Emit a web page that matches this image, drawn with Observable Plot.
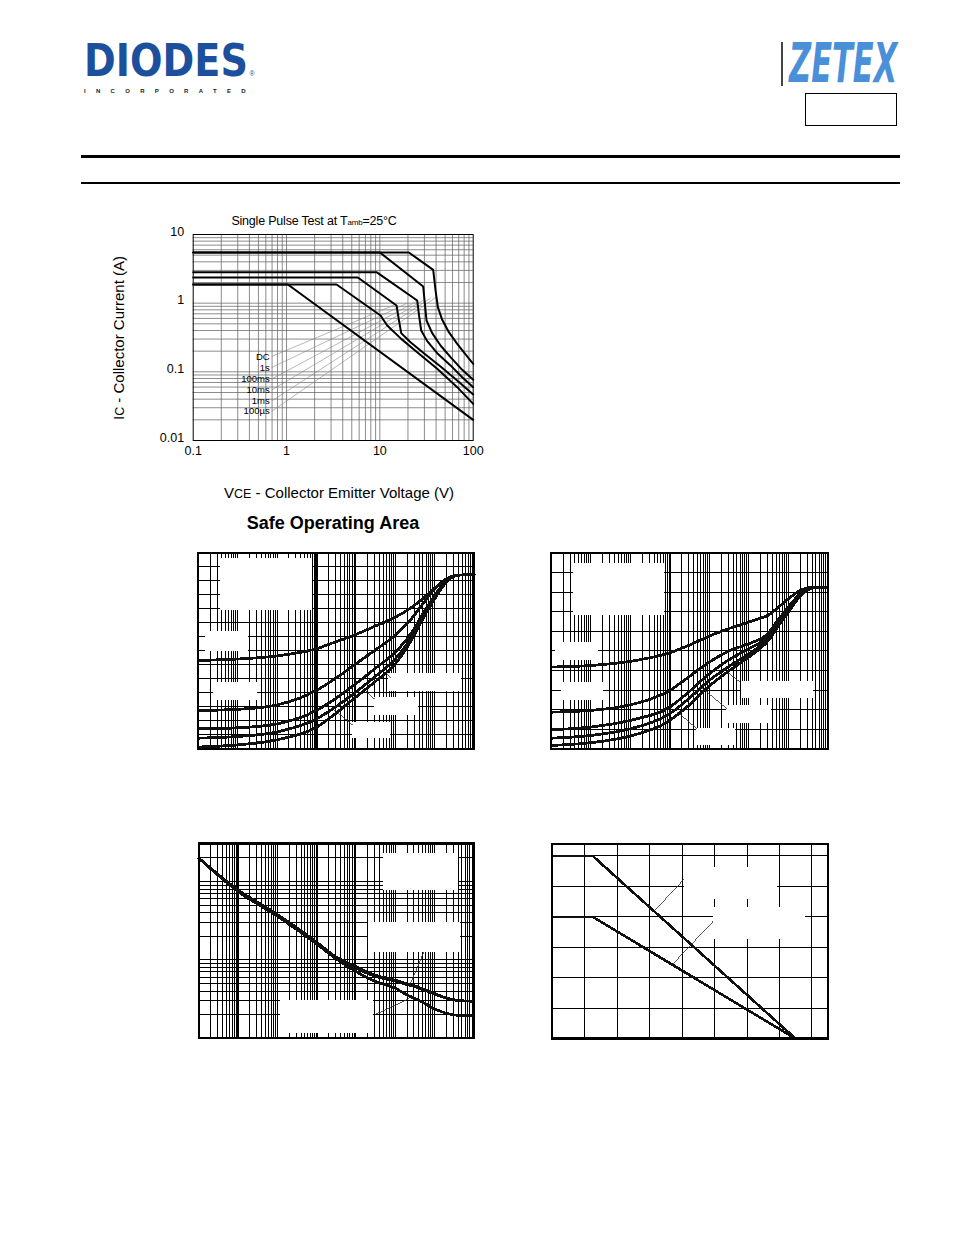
<!DOCTYPE html>
<html>
<head>
<meta charset="utf-8">
<script src="https://cdn.jsdelivr.net/npm/d3@7"></script>
<script src="https://cdn.jsdelivr.net/npm/@observablehq/plot@0.6"></script>
<style>
html,body{margin:0;padding:0;background:#fff;}
#page{position:relative;width:954px;height:1235px;overflow:hidden;font-family:"Liberation Sans",Arial,sans-serif;color:#000;}
.abs{position:absolute;white-space:nowrap;}
.chart{position:absolute;}
.chart svg{display:block;}
</style>
</head>
<body>
<div id="page">
  <!-- header -->
  <div class="abs" style="left:84px;top:42.4px;font:bold 45px/38px 'DejaVu Sans',sans-serif;color:#1c4f9c;transform-origin:0 0;transform:scaleX(0.85);">DIODES</div>
  <div class="abs" style="left:249.5px;top:70px;font:7px/7px 'Liberation Sans',Arial,sans-serif;color:#1c4f9c;">®</div>
  <div class="abs" style="left:84px;top:88.3px;font:bold 6px/6px 'Liberation Sans',Arial,sans-serif;letter-spacing:10.3px;color:#222;">INCORPORATED</div>
  <div class="abs" style="left:781px;top:42px;width:2px;height:44px;background:#444;"></div>
  <div class="abs" style="left:789px;top:35.6px;font:oblique bold 55px/55px 'DejaVu Sans',sans-serif;color:#4a90d9;transform-origin:0 0;transform:scaleX(0.555);">ZETEX</div>
  <div class="abs" style="left:805px;top:93px;width:92px;height:33px;border:1px solid #000;box-sizing:border-box;"></div>
  <div class="abs" style="left:81px;top:155px;width:819px;height:3px;background:#000;"></div>
  <div class="abs" style="left:81px;top:182px;width:819px;height:2px;background:#000;"></div>

  <!-- SOA texts -->
  <div class="abs" style="left:314px;top:214px;transform:translateX(-50%);font:12.5px/14px 'Liberation Sans',Arial,sans-serif;letter-spacing:-0.2px;">Single Pulse Test at T<span style="font-size:8px">amb</span>=25°C</div>
  <div class="abs" style="left:119px;top:338px;transform:translate(-50%,-50%) rotate(-90deg);font:15px/16px 'Liberation Sans',Arial,sans-serif;">I<span style="font-size:12.5px">C</span> - Collector Current (A)</div>
  <div class="abs" style="left:339px;top:485px;transform:translateX(-50%);font:15px/16px 'Liberation Sans',Arial,sans-serif;">V<span style="font-size:12.5px">CE</span> - Collector Emitter Voltage (V)</div>
  <div class="abs" style="left:333px;top:514px;transform:translateX(-50%);font:bold 18px/19px 'Liberation Sans',Arial,sans-serif;">Safe Operating Area</div>

  <div class="chart" id="soa" style="left:100px;top:210px;"></div>
  <div class="chart" id="chA" style="left:190px;top:545px;"></div>
  <div class="chart" id="chB" style="left:543px;top:545px;"></div>
  <div class="chart" id="chC" style="left:190px;top:835px;"></div>
  <div class="chart" id="chD" style="left:545px;top:835px;"></div>
</div>
<script>
// ---------------- Safe Operating Area data (VCE in V, IC in A) ----------------
const soaXTicks = [0.1, 1, 10, 100];
const soaYTicks = [0.01, 0.1, 1, 10];
const soaVce100us = [0.1, 20.45, 37.28, 39.48, 41.82, 46.55, 54.86, 67.4, 82.78, 100];
const soaIc100us  = [5.47, 5.47, 3.06, 1.53, 0.874, 0.572, 0.378, 0.256, 0.179, 0.131];
const soaVce1ms   = [0.1, 10, 29.13, 30.35, 31.62, 36.37, 44.67, 57.17, 76.24, 100];
const soaIc1ms    = [5.47, 5.47, 1.748, 0.978, 0.559, 0.366, 0.242, 0.164, 0.107, 0.0765];
const soaVce10ms  = [0.1, 9.21, 25.12, 26.39, 27.73, 32.15, 41.14, 57.17, 76.24, 100];
const soaIc10ms   = [2.83, 2.83, 1.094, 0.639, 0.400, 0.280, 0.187, 0.124, 0.0836, 0.0598];
const soaVce100ms = [0.1, 5.81, 15.09, 15.98, 16.93, 21.31, 29.61, 44.67, 67.4, 100];
const soaIc100ms  = [2.365, 2.365, 0.925, 0.572, 0.366, 0.270, 0.187, 0.1196, 0.0747, 0.0468];
const soaVce1s    = [0.1, 3.434, 10.17, 11.98, 16.93, 25.12, 41.14, 67.4, 100];
const soaIc1s     = [1.87, 1.87, 0.661, 0.473, 0.302, 0.1934, 0.1106, 0.0598, 0.0342];
const soaVceDC    = [0.1, 1.033, 100];
const soaIcDC     = [1.87, 1.87, 0.02];
// curve labels and their leader lines
const soaLabels    = ["DC", "1s", "100ms", "10ms", "1ms", "100µs"];
const soaLabelVce  = 0.66;
const soaLabelIc   = [0.1673, 0.1156, 0.0787, 0.0544, 0.0376, 0.0265];
const soaLeaderVce = [14.7, 19.6, 24.7, 29.6, 34.9, 41.1];
const soaLeaderIc  = [0.957, 1.0, 1.057, 1.119, 1.18, 1.25];

// ---------------- Small characteristic charts (shared IC points, A) ----------------
const icPoints = [1e-6, 1e-5, 1e-4, 1e-3, 3e-3, 1e-2, 3e-2, 0.1, 0.2, 0.3, 0.5, 1, 2, 3, 5, 10];
// Chart A (linear y, 0..700)
const chartA1 = [315, 320, 331, 357, 381, 408, 437, 470, 494, 512, 536, 574, 608, 617, 621, 622];
const chartA2 = [136, 140, 156, 208, 250, 303, 351, 405, 447, 476, 518, 572, 608, 617, 621, 622];
const chartA3 = [70, 74, 88, 136, 178, 232, 285, 345, 393, 429, 482, 548, 602, 617, 621, 622];
const chartA4 = [37, 43, 59, 106, 148, 202, 256, 321, 375, 411, 470, 542, 598, 616, 621, 622];
const chartA5 = [5, 13, 31, 76, 124, 184, 238, 303, 363, 405, 464, 536, 596, 615, 621, 622];
// Chart B (linear y, 0..1)
const chartB1 = [.417, .425, .446, .490, .527, .575, .612, .646, .667, .680, .714, .765, .808, .820, .825, .825];
const chartB2 = [.187, .196, .224, .298, .366, .442, .497, .536, .561, .587, .646, .723, .791, .813, .823, .825];
const chartB3 = [.097, .111, .145, .213, .289, .383, .451, .510, .544, .575, .629, .714, .786, .813, .823, .825];
const chartB4 = [.054, .068, .102, .179, .255, .349, .417, .485, .527, .561, .621, .706, .782, .811, .823, .825];
const chartB5 = [.017, .031, .065, .145, .221, .320, .395, .468, .514, .548, .612, .697, .779, .810, .823, .825];
// Chart C (log y, 1..312)
const chartC1 = [198.6, 74.5, 36.1, 16.0, 10.5, 7.10, 5.34, 4.35, 3.57, 3.24, 2.88, 2.37, 2.08, 1.99, 1.95, 1.95];
const chartC2 = [198.6, 74.5, 36.1, 16.0, 10.5, 7.83, 6.19, 5.34, 4.84, 4.61, 4.18, 3.68, 3.24, 3.09, 2.99, 2.97];
const chartC3 = [198.6, 78, 38, 16.8, 11.0, 8.2, 6.4, 5.5, 4.95, 4.7, 4.25, 3.72, 3.26, 3.1, 3.0, 2.97];
// Chart D (derating: temperature °C vs power W)
const tempD = [0, 25, 150];
const chartD1 = [1.2, 1.2, 0];
const chartD2 = [0.8, 0.8, 0];
// erased-label masks [x1, x2, y1, y2] and leader lines [x1, y1, x2, y2]
const boxesA = [[3.68e-6, 7.8e-4, 494, 679], [1.53e-6, 1.92e-5, 347, 417], [2.49e-6, 3.14e-5, 172, 237], [0.0689, 4.73, 205, 268], [0.0303, 0.397, 118, 184], [0.0081, 0.076, 35, 94]];
const leadersA = [[0.0424, 283, 0.076, 255], [0.0145, 216, 0.0303, 176], [0.00252, 144, 0.0086, 82]];
const boxesB = [[3.67e-6, 7.4e-4, .680, .944], [1.26e-6, 1.57e-5, .451, .544], [1.87e-6, 2.11e-5, .246, .340], [.0673, 4.37, .258, .343], [.0281, .372, .128, .221], [.00489, .0474, .017, .102]];
const leadersB = [[.0254, .399, .061, .340], [.00653, .311, .0281, .204], [.00152, .190, .00489, .102]];
const boxesC = [[.0492, 4.13, 76.9, 226], [.0212, 4.56, 12.5, 29.7], [1.2e-4, .0284, 1.14, 3.03]];
const leadersC = [[.0313, 2.01, .221, 3.18], [.244, 4.95, .531, 12.5]];
const boxesD = [[81.6, 138.5, .917, 1.124], [99.5, 155.9, .655, .862]];
const leadersD = [[63.6, .847, 81.6, 1.052], [74.3, .491, 99.5, .775]];

// ---------------- helpers ----------------
function logGrid(lo, hi) {
  const out = [];
  for (let e = Math.floor(Math.log10(lo)); e <= Math.ceil(Math.log10(hi)); e++) {
    for (let k = 1; k < 10; k++) {
      const v = +(k * Math.pow(10, e)).toPrecision(3);
      if (v > lo * 1.0001 && v < hi * 0.9999) out.push(v);
    }
  }
  return out;
}
function linGrid(lo, hi, step) {
  const out = [];
  for (let v = lo + step; v < hi - step * 0.01; v += step) out.push(+v.toFixed(6));
  return out;
}
const font = "Liberation Sans, Arial, sans-serif";

// ---------------- SOA chart ----------------
const soaCurves = [
  ["100µs", soaVce100us, soaIc100us], ["1ms", soaVce1ms, soaIc1ms], ["10ms", soaVce10ms, soaIc10ms],
  ["100ms", soaVce100ms, soaIc100ms], ["1s", soaVce1s, soaIc1s], ["DC", soaVceDC, soaIcDC]
];
const soaRows = soaCurves.flatMap(([name, xs, ys]) => xs.map((v, i) => ({series: name, vce: v, ic: ys[i]})));
const soaLabelRows = soaLabels.map((t, i) => ({t, x: soaLabelVce, y: soaLabelIc[i], x2: soaLeaderVce[i], y2: soaLeaderIc[i]}));

const soa = Plot.plot({
  width: 390, height: 255,
  marginLeft: 92.7, marginRight: 17.3, marginTop: 24, marginBottom: 25,
  x: {type: "log", domain: [0.1, 100], label: null},
  y: {type: "log", domain: [0.01, 10], label: null},
  style: {fontFamily: font, fontSize: "12px", background: "transparent", color: "#000"},
  marks: [
    Plot.ruleX(logGrid(0.1, 100), {stroke: "#666", strokeWidth: 0.75}),
    Plot.ruleY(logGrid(0.01, 10), {stroke: "#666", strokeWidth: 0.75}),
    Plot.link(soaLabelRows, {x1: d => d.x * 1.05, y1: "y", x2: "x2", y2: "y2", stroke: "#888", strokeWidth: 0.6}),
    Plot.line(soaRows, {x: "vce", y: "ic", z: "series", stroke: "#000", strokeWidth: 2, strokeLinejoin: "miter"}),
    Plot.text(soaLabelRows, {x: "x", y: "y", text: "t", textAnchor: "end", fontSize: 9.5, fill: "#000"}),
    Plot.frame({stroke: "#000", strokeWidth: 1}),
    Plot.axisX({ticks: soaXTicks, tickSize: 0, tickPadding: 6, tickFormat: d => String(d), label: null, fontSize: 12.5}),
    Plot.axisY({ticks: soaYTicks, tickSize: 0, tickPadding: 9, tickFormat: d => String(d), label: null, dy: -3, fontSize: 12.5})
  ]
});
document.getElementById("soa").appendChild(soa);

// ---------------- small charts ----------------
function smallChart(opts) {
  const {xScale, yScale, xGrid, yGrid, xThick, series, xs, boxes, leaders, m} = opts;
  const rows = series.flatMap((ys, s) => xs.map((x, i) => ({s, x, y: ys[i]})));
  return Plot.plot({
    width: 290, height: 210,
    marginLeft: m[0], marginRight: m[1], marginTop: m[2], marginBottom: m[3],
    x: {...xScale, axis: null},
    y: {...yScale, axis: null},
    style: {background: "transparent", shapeRendering: "crispEdges"},
    marks: [
      Plot.ruleX(xGrid, {stroke: "#000", strokeWidth: 1}),
      Plot.ruleY(yGrid, {stroke: "#000", strokeWidth: 1}),
      Plot.ruleX(xThick, {stroke: "#000", strokeWidth: 2.2}),
      Plot.rect(boxes, {x1: d => d[0], x2: d => d[1], y1: d => d[2], y2: d => d[3], fill: "#fff"}),
      Plot.link(leaders, {x1: d => d[0], y1: d => d[1], x2: d => d[2], y2: d => d[3], stroke: "#333", strokeWidth: 0.8, shapeRendering: "auto"}),
      Plot.line(rows, {x: "x", y: "y", z: "s", stroke: "#111", strokeWidth: 2.8, curve: "monotone-x", shapeRendering: "auto"}),
      Plot.frame({stroke: "#000", strokeWidth: 2})
    ]
  });
}

const icDomain = [1e-6, 10];
document.getElementById("chA").appendChild(smallChart({
  xScale: {type: "log", domain: icDomain}, yScale: {domain: [0, 700]},
  xGrid: logGrid(1e-6, 10), yGrid: linGrid(0, 700, 50), xThick: [1e-3],
  series: [chartA1, chartA2, chartA3, chartA4, chartA5], xs: icPoints,
  boxes: boxesA, leaders: leadersA, m: [7.7, 6.3, 7.3, 7]
}));
document.getElementById("chB").appendChild(smallChart({
  xScale: {type: "log", domain: icDomain}, yScale: {domain: [0, 1]},
  xGrid: logGrid(1e-6, 10), yGrid: linGrid(0, 1, 0.1), xThick: [1e-3],
  series: [chartB1, chartB2, chartB3, chartB4, chartB5], xs: icPoints,
  boxes: boxesB, leaders: leadersB, m: [7.7, 5.7, 7.3, 6.7]
}));
document.getElementById("chC").appendChild(smallChart({
  xScale: {type: "log", domain: icDomain}, yScale: {type: "log", domain: [1, 312]},
  xGrid: logGrid(1e-6, 10), yGrid: logGrid(1, 312), xThick: [1e-5, 1e-3],
  series: [chartC1, chartC2, chartC3], xs: icPoints,
  boxes: boxesC, leaders: leadersC, m: [8.3, 6.7, 7.3, 7.3]
}));
document.getElementById("chD").appendChild(Plot.plot({
  width: 290, height: 210, marginLeft: 6.7, marginRight: 7.3, marginTop: 8.3, marginBottom: 6.7,
  x: {domain: [0, 170], axis: null}, y: {domain: [0, 1.28], axis: null},
  style: {background: "transparent", shapeRendering: "crispEdges"},
  marks: [
    Plot.ruleX(linGrid(0, 170, 20), {stroke: "#000", strokeWidth: 1}),
    Plot.ruleY(linGrid(0, 1.28, 0.2), {stroke: "#000", strokeWidth: 1}),
    Plot.rect(boxesD, {x1: d => d[0], x2: d => d[1], y1: d => d[2], y2: d => d[3], fill: "#fff"}),
    Plot.link(leadersD, {x1: d => d[0], y1: d => d[1], x2: d => d[2], y2: d => d[3], stroke: "#333", strokeWidth: 0.8, shapeRendering: "auto"}),
    Plot.line(tempD.map((t, i) => ({t, p: chartD1[i]})), {x: "t", y: "p", stroke: "#111", strokeWidth: 2.6, shapeRendering: "auto"}),
    Plot.line(tempD.map((t, i) => ({t, p: chartD2[i]})), {x: "t", y: "p", stroke: "#111", strokeWidth: 2.6, shapeRendering: "auto"}),
    Plot.frame({stroke: "#000", strokeWidth: 1.5}),
    Plot.ruleY([0], {stroke: "#000", strokeWidth: 3})
  ]
}));
</script>
</body>
</html>
